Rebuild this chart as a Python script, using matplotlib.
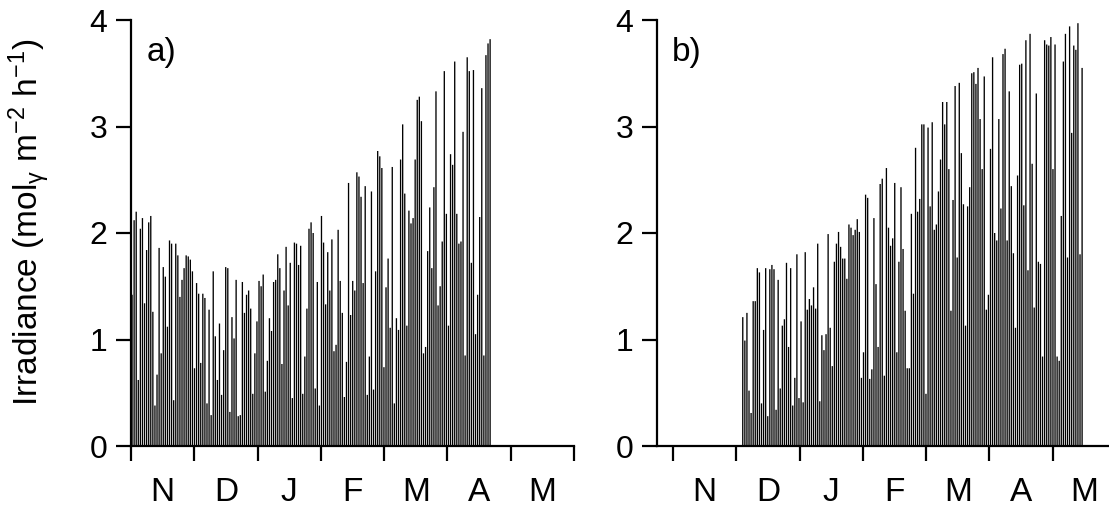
import matplotlib
matplotlib.use('Agg')
import matplotlib.pyplot as plt
import numpy as np

plt.rcParams['font.family'] = ['Liberation Sans', 'DejaVu Sans']
plt.rcParams['mathtext.fontset'] = 'custom'
plt.rcParams['mathtext.rm'] = 'Liberation Sans'
plt.rcParams['mathtext.it'] = 'Liberation Sans'
plt.rcParams['mathtext.default'] = 'regular'

# daily peak irradiance (mol m-2 h-1)
# panel a starts on 1 Nov
peaks_a = [1.42, 2.12, 2.20, 0.62, 2.04, 2.14, 1.34, 1.84, 2.10, 2.16, 1.26, 0.38, 0.67, 1.86, 0.87,
           1.68, 1.59, 1.12, 1.93, 1.90, 0.43, 1.90, 1.79, 1.40, 1.56, 1.67, 1.79, 1.78, 1.75, 1.64,
           0.73, 1.53, 1.43, 0.78, 1.43, 1.39, 0.40, 1.28, 0.29, 1.64, 1.03, 0.62, 1.15, 0.48, 0.90,
           1.68, 1.67, 0.32, 1.21, 1.01, 1.56, 0.28, 0.29, 1.54, 1.25, 1.42, 1.46, 1.29,
           0.49, 0.87, 1.17, 1.55, 1.50, 1.61, 0.51, 0.80, 1.20, 1.08, 1.54, 1.56, 1.80, 1.67, 0.77,
           1.46, 1.87, 1.32, 1.72, 0.45, 1.91, 1.90, 1.70, 1.88, 0.49, 0.84, 1.29, 2.04, 2.10, 2.00,
           0.54, 1.54, 0.38, 2.16, 1.91, 1.33, 1.82, 1.46, 1.94, 0.89, 0.95, 2.03, 1.55, 1.25, 0.46,
           0.79, 2.47, 1.23, 1.55, 1.46, 2.57, 2.53, 2.34, 1.53, 2.44, 0.48, 0.84, 2.39,
           0.53, 1.64, 2.77, 2.72, 2.61, 0.74, 1.49, 1.76, 1.11, 2.62, 0.40, 1.20, 1.09, 2.69, 3.02,
           2.37, 1.13, 2.21, 2.09, 2.14, 2.69, 3.25, 3.28, 3.05, 0.87, 0.93, 1.83, 2.24, 1.67, 2.43,
           3.33, 1.32, 1.50, 1.92, 3.52, 2.18, 1.13, 2.74, 2.64, 3.61, 2.18, 1.90, 1.92, 2.95, 0.85,
           3.65, 3.52, 1.72, 3.53, 1.05, 1.42, 2.15, 3.36, 0.85, 3.67, 3.78, 3.82]
start_a = 0

# panel b starts on day 33 after 1 Nov
peaks_b = [1.21, 0.99, 1.25, 0.52, 0.31, 1.36, 1.36, 1.67, 1.63, 0.40, 1.09, 1.67, 0.28, 1.66, 1.70,
           1.66, 0.34, 1.56, 0.54, 1.13, 1.19, 1.72, 0.93, 1.67, 0.38, 0.64, 1.80, 0.45, 1.17, 0.41,
           1.82, 1.28, 1.38, 1.32, 1.49, 1.29, 1.90, 0.42, 1.04, 0.90, 1.05, 1.99, 1.11, 0.75, 1.73,
           1.90, 2.01, 1.87, 1.76, 1.76, 1.57, 2.08, 2.05, 1.98, 2.03, 2.13,
           2.01, 0.64, 0.88, 2.36, 2.33, 0.63, 0.72, 2.14, 1.52, 0.93, 2.46, 2.51, 0.66, 2.61, 2.05,
           1.88, 1.95, 2.47, 0.88, 1.73, 2.43, 1.85, 1.27, 0.73, 0.73, 2.18, 1.43, 2.80, 2.20, 2.32,
           3.02, 3.02, 0.49, 2.99, 2.25, 3.04, 2.03, 2.08, 2.39, 2.69, 3.23, 3.02, 3.23, 2.60, 1.27,
           2.31, 3.38, 1.77, 3.41, 2.75, 2.27, 1.13, 2.25, 2.43, 3.50,
           3.51, 3.40, 3.55, 3.07, 2.60, 3.47, 1.28, 1.42, 2.79, 3.65, 2.00, 1.93, 3.07, 2.23, 3.68,
           3.73, 1.93, 3.33, 2.44, 1.81, 1.11, 2.54, 3.58, 3.59, 2.26, 3.81, 1.65, 3.87, 2.65, 1.30,
           3.31, 1.73, 1.71, 0.84, 3.81, 3.77, 3.76, 3.84, 2.60, 3.77, 0.84, 0.80, 2.16, 3.61, 3.87,
           1.77, 3.94, 2.94, 3.76, 3.72, 3.97, 1.80, 3.55]
start_b = 33

months = ['N', 'D', 'J', 'F', 'M', 'A', 'M']
month_len = 30.4
yticks = [0, 1, 2, 3, 4]

W, H = 1109, 515
fig = plt.figure(figsize=(W / 100, H / 100), dpi=100)

def setup(ax, xmin, label, lab_x):
    ax.set_ylim(0, 4)
    ax.set_xlim(xmin, len(months) * month_len)
    for s in ['top', 'right']:
        ax.spines[s].set_visible(False)
    for s in ['left', 'bottom']:
        ax.spines[s].set_linewidth(1.6)
    ax.set_yticks(yticks)
    ax.set_yticklabels([str(v) for v in yticks])
    ax.set_xticks([i * month_len for i in range(len(months) + 1)])
    ax.set_xticklabels([])
    ax.set_xticks([(i + 0.5) * month_len for i in range(len(months))], minor=True)
    ax.set_xticklabels(months, minor=True)
    ax.tick_params(which='major', direction='out', length=11, width=1.6, labelsize=23, pad=6)
    ax.tick_params(axis='x', which='minor', length=0, labelsize=24, pad=22)
    ax.text(lab_x, 0.96, label, transform=ax.transAxes, ha='left', va='top', fontsize=24)

bot = (H - 446) / H
hgt = 426 / H
px_day = 443 / (len(months) * month_len)

ax1 = fig.add_axes([131 / W, bot, 443 / W, hgt])
setup(ax1, 0, 'a)', 0.035)
days_a = start_a + np.arange(len(peaks_a)) + 0.5
ax1.vlines(days_a, 0, peaks_a, color='black', linewidth=0.95, snap=False)

xmin_b = -7.7
wb = (len(months) * month_len - xmin_b) * px_day
ax2 = fig.add_axes([657 / W, bot, wb / W, hgt])
setup(ax2, xmin_b, 'b)', 0.033)
days_b = start_b + np.arange(len(peaks_b)) + 0.5
ax2.vlines(days_b, 0, peaks_b, color='black', linewidth=0.95, snap=False)

fig.text(30 / W, 1 - 222 / H, r'Irradiance (mol$_\gamma$ m$^{-2}$ h$^{-1}$)',
         rotation=90, ha='center', va='center', fontsize=24)

fig.savefig('out.png', dpi=100)
